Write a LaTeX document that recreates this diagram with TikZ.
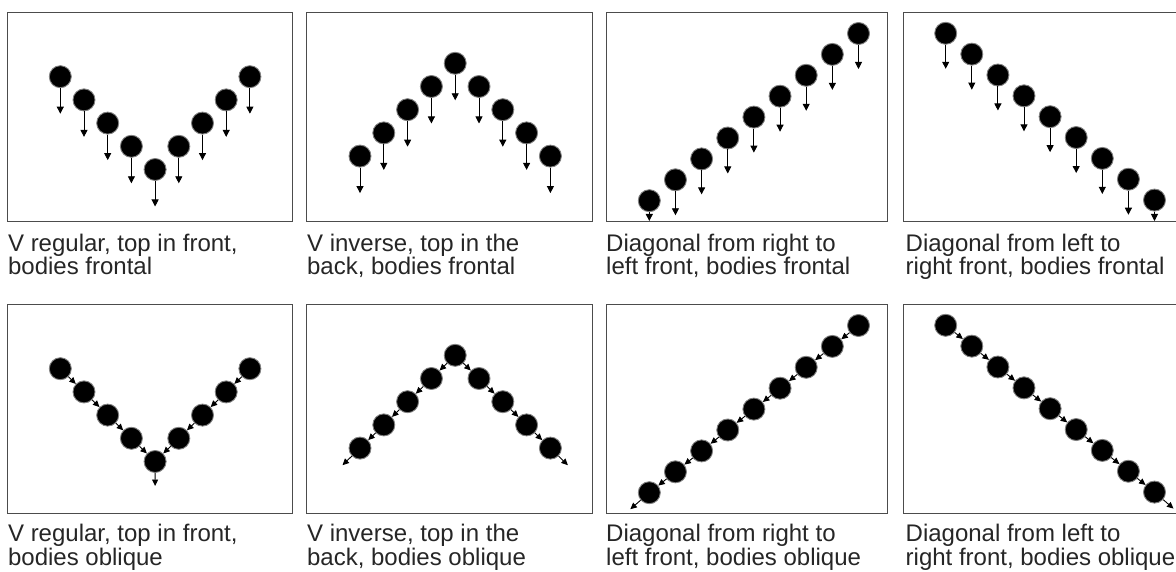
\documentclass[tikz,border=0pt]{standalone}
\usepackage{fontspec}
\setmainfont{Liberation Sans}
\usetikzlibrary{arrows.meta}
\tikzset{
  ball/.style={circle, fill=black, draw=black!50, line width=0.9pt, minimum size=22pt, inner sep=0pt},
  frame/.style={draw=black!70, line width=1.2pt},
  varr/.style={-{Triangle[length=7pt,width=7pt]}, line width=0.9pt},
  oarr/.style={-{Triangle[length=6.5pt,width=6pt]}, line width=0.9pt},
  captext/.style={anchor=north west, inner sep=0pt, align=left, text=black!85,
    font=\fontsize{24}{23.5}\selectfont},
}
\begin{document}
\begin{tikzpicture}[x=1pt,y=-1pt]
\useasboundingbox (0,0) rectangle (1176,572);
\clip (0,0) rectangle (1176,572);
\fill[white] (0,0) rectangle (1176,572);

% ---------- frames ----------
\foreach \r/\dy in {1/0,2/292}{
  \path[frame] (7.7,12.3+\dy) rectangle (292.3,221.7+\dy);
  \path[frame] (306.7,12.3+\dy) rectangle (592.3,221.7+\dy);
  \path[frame] (606.7,12.3+\dy) rectangle (887.3,221.7+\dy);
  \path[frame] (903.3,12.3+\dy) rectangle (1189,221.7+\dy);
}

% ---------- row 1: bodies frontal ----------
% panel A : V regular
\foreach \i in {1,...,9}{
  \pgfmathsetmacro{\xx}{60.3+23.7*(\i-1)}
  \pgfmathsetmacro{\yy}{169.5-23.2*abs(\i-5)}
  \node[ball] (A\i) at (\xx,\yy) {};
  \coordinate (At\i) at (\xx,\yy+37);
  \draw[varr] (A\i) -- (At\i);
}
% panel B : V inverse
\foreach \i in {1,...,9}{
  \pgfmathsetmacro{\xx}{360+23.8*(\i-1)}
  \pgfmathsetmacro{\yy}{63.3+23.2*abs(\i-5)}
  \node[ball] (B\i) at (\xx,\yy) {};
  \coordinate (Bt\i) at (\xx,\yy+37);
  \draw[varr] (B\i) -- (Bt\i);
}
% panel C : diagonal right to left front
\foreach \i in {1,...,9}{
  \pgfmathsetmacro{\xx}{649.3+26.15*(\i-1)}
  \pgfmathsetmacro{\yy}{200.7-20.9*(\i-1)}
  \pgfmathsetmacro{\ty}{min(\yy+35.5,221)}
  \node[ball] (C\i) at (\xx,\yy) {};
  \coordinate (Ct\i) at (\xx,\ty);
  \draw[varr] (C\i) -- (Ct\i);
}
% panel D : diagonal left to right front
\foreach \i in {1,...,9}{
  \pgfmathsetmacro{\xx}{945.7+26.1*(\i-1)}
  \pgfmathsetmacro{\yy}{33.3+20.85*(\i-1)}
  \pgfmathsetmacro{\ty}{min(\yy+35.5,221)}
  \node[ball] (D\i) at (\xx,\yy) {};
  \coordinate (Dt\i) at (\xx,\ty);
  \draw[varr] (D\i) -- (Dt\i);
}

% ---------- row 2: bodies oblique ----------
\foreach \i in {1,...,9}{
  \pgfmathsetmacro{\xa}{60.3+23.7*(\i-1)}
  \pgfmathsetmacro{\ya}{292+169.5-23.2*abs(\i-5)}
  \node[ball] (E\i) at (\xa,\ya) {};
  \pgfmathsetmacro{\xb}{360+23.8*(\i-1)}
  \pgfmathsetmacro{\yb}{292+63.3+23.2*abs(\i-5)}
  \node[ball] (F\i) at (\xb,\yb) {};
  \pgfmathsetmacro{\xc}{649.3+26.15*(\i-1)}
  \pgfmathsetmacro{\yc}{292+200.7-20.9*(\i-1)}
  \node[ball] (G\i) at (\xc,\yc) {};
  \pgfmathsetmacro{\xd}{945.7+26.1*(\i-1)}
  \pgfmathsetmacro{\yd}{292+33.3+20.85*(\i-1)}
  \node[ball] (H\i) at (\xd,\yd) {};
}
% free ends
\coordinate (Eend) at (155.1,292+169.5+24.5);
\coordinate (FendL) at (360-17.5,292+156.1+17.1);
\coordinate (FendR) at (550.4+17.5,292+156.1+17.1);
\coordinate (Gend) at (649.3-19,292+200.7+16.5);
\coordinate (Hend) at (1154.5+19,292+200.1+16.5);

\foreach \i/\j in {1/2,2/3,3/4,4/5,9/8,8/7,7/6,6/5}{\draw[oarr] (E\i) -- (E\j);}
\draw[oarr] (E5) -- (Eend);
\foreach \i/\j in {5/4,4/3,3/2,2/1,5/6,6/7,7/8,8/9}{\draw[oarr] (F\i) -- (F\j);}
\draw[oarr] (F1) -- (FendL);
\draw[oarr] (F9) -- (FendR);
\foreach \i/\j in {9/8,8/7,7/6,6/5,5/4,4/3,3/2,2/1}{\draw[oarr] (G\i) -- (G\j);}
\draw[oarr] (G1) -- (Gend);
\foreach \i/\j in {1/2,2/3,3/4,4/5,5/6,6/7,7/8,8/9}{\draw[oarr] (H\i) -- (H\j);}
\draw[oarr] (H9) -- (Hend);

% ---------- captions ----------
\node[captext] (capA) at (7.9,233.8) {V regular, top in front,\\bodies frontal};
\node[captext] (capB) at (306.9,233.8) {V inverse, top in the\\back, bodies frontal};
\node[captext] (capC) at (606,233.8) {Diagonal from right to\\left front, bodies frontal};
\node[captext] (capD) at (905.5,233.8) {Diagonal from left to\\right front, bodies frontal};
\node[captext] (capE) at (7.9,524) {V regular, top in front,\\bodies oblique};
\node[captext] (capF) at (306.9,524) {V inverse, top in the\\back, bodies oblique};
\node[captext] (capG) at (606,524) {Diagonal from right to\\left front, bodies oblique};
\node[captext] (capH) at (905.5,524) {Diagonal from left to\\right front, bodies oblique};
\end{tikzpicture}
\end{document}
